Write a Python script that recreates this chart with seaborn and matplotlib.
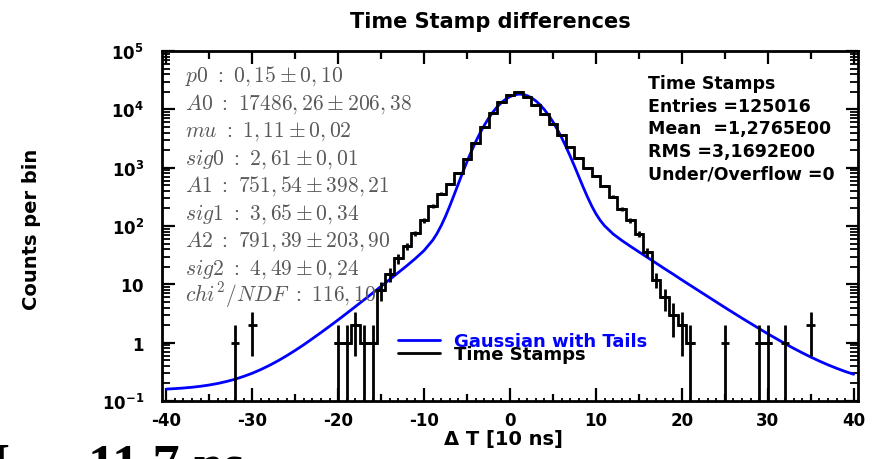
import numpy as np
import pandas as pd
import matplotlib
matplotlib.use("Agg")
import matplotlib.pyplot as plt
from matplotlib.lines import Line2D
from matplotlib.ticker import FixedLocator, LogLocator, NullFormatter
import seaborn as sns

# ---------------- data ----------------
bin_centers = [-32, -30,
               -20, -19, -18, -17, -16, -15, -14, -13, -12, -11, -10, -9, -8, -7, -6, -5, -4, -3, -2, -1,
               0, 1, 2, 3, 4, 5, 6, 7, 8, 9, 10, 11, 12, 13, 14, 15, 16, 17, 18, 19, 20, 21,
               25, 29, 30, 32, 35]
counts = [1, 2,
          1, 1, 2, 1, 1, 8, 15, 28, 45, 75, 125, 220, 360, 520, 800, 1400, 2700, 5000, 8500, 13200,
          17800, 20000, 16200, 11800, 8200, 5500, 3700, 2300, 1450, 1000, 710, 480, 320, 195, 125, 74, 36, 12, 6, 3, 2, 1,
          1, 1, 1, 1, 2]

fit_x = [-40, -39, -38, -37, -36, -35, -34, -33, -32, -31, -30, -29, -28, -27, -26, -25, -24, -23, -22, -21,
         -20, -19, -18, -17, -16, -15, -14, -13, -12, -11, -10, -9,
         -8.5, -8, -7.5, -7, -6.5, -6, -5.5, -5, -4.5, -4, -3.5, -3, -2.5, -2, -1.5, -1, -0.5, 0, 0.5, 1,
         1.5, 2, 2.5, 3, 3.5, 4, 4.5, 5, 5.5, 6, 6.5, 7, 7.5, 8, 8.5, 9, 9.5, 10, 10.5,
         11, 12, 13, 14, 15, 16, 17, 18, 19, 20, 21, 22, 23, 24, 25, 26, 27, 28, 29, 30,
         31, 32, 33, 34, 35, 36, 37, 38, 39, 40]
fit_y = [0.160, 0.163, 0.167, 0.172, 0.179, 0.188, 0.200, 0.216, 0.236, 0.264,
         0.299, 0.346, 0.408, 0.489, 0.596, 0.737, 0.922, 1.17, 1.49, 1.91,
         2.46, 3.19, 4.15, 5.41, 7.06, 9.24, 12.1, 15.9, 20.9, 27.8, 38.0, 56.9,
         74.1, 102, 147, 222, 343, 535, 831, 1270, 1897, 2760, 3887, 5300, 6998, 8920, 10974, 13030, 14940, 16530, 17651, 18200,
         18018, 17150, 15755, 13970, 11964, 9890, 7894, 6090, 4547, 3290, 2311, 1580, 1064, 707, 470, 318, 222, 162, 125,
         101, 73.0, 56.7, 45.0, 36.0, 28.9, 23.1, 18.5, 14.9, 11.9, 9.58, 7.70, 6.20, 4.99, 4.02, 3.25, 2.63, 2.14, 1.74, 1.42,
         1.17, 0.964, 0.801, 0.671, 0.567, 0.484, 0.417, 0.364, 0.321, 0.287]

x_tick_values = [-40, -30, -20, -10, 0, 10, 20, 30, 40]
x_tick_labels = ["-40", "-30", "-20", "-10", "0", "10", "20", "30", "40"]
x_mid_ticks = [-35, -25, -15, -5, 5, 15, 25, 35]
x_minor_ticks = list(range(-40, 41))
y_tick_values = [0.1, 1, 10, 100, 1000, 10000, 100000]
y_tick_labels = [r"$\mathbf{10^{-1}}$", r"$\mathbf{1}$", r"$\mathbf{10}$", r"$\mathbf{10^{2}}$",
                 r"$\mathbf{10^{3}}$", r"$\mathbf{10^{4}}$", r"$\mathbf{10^{5}}$"]

title_text = "Time Stamp differences"
x_label = "\u0394 T [10 ns]"
y_label = "Counts per bin"
legend_labels = ["Gaussian with Tails", "Time Stamps"]
fit_param_lines = [r"$p0\ :\ 0,15 \pm 0,10$",
                   r"$A0\ :\ 17486,26 \pm 206,38$",
                   r"$mu\ :\ 1,11 \pm 0,02$",
                   r"$sig0\ :\ 2,61 \pm 0,01$",
                   r"$A1\ :\ 751,54 \pm 398,21$",
                   r"$sig1\ :\ 3,65 \pm 0,34$",
                   r"$A2\ :\ 791,39 \pm 203,90$",
                   r"$sig2\ :\ 4,49 \pm 0,24$",
                   r"$chi^2/NDF\ :\ 116,10$"]
stats_lines = ["Time Stamps", "Entries =125016", "Mean  =1,2765E00", "RMS =3,1692E00", "Under/Overflow =0"]
bottom_left_text = "I"
bottom_text = "11,7 ns"

# ---------------- style ----------------
sns.set_theme(style="white")
plt.rcParams['font.family'] = ['DejaVu Sans']
plt.rcParams['mathtext.fontset'] = 'dejavusans'
plt.rcParams['axes.linewidth'] = 2.0
plt.rcParams['axes.edgecolor'] = 'black'
plt.rcParams['text.color'] = 'black'
plt.rcParams['axes.labelcolor'] = 'black'
plt.rcParams['xtick.color'] = 'black'
plt.rcParams['ytick.color'] = 'black'

W, H = 875, 460
fig = plt.figure(figsize=(W / 100, H / 100), dpi=100)
fig.patch.set_facecolor('white')
ax = fig.add_axes([162 / W, 58 / H, 696 / W, 350 / H])
ax.set_facecolor('white')
ax.set_yscale('log')

# fit curve (seaborn)
fit_df = pd.DataFrame({'x': fit_x, 'y': fit_y})
sns.lineplot(data=fit_df, x='x', y='y', ax=ax, color='#0000ff', linewidth=2.0,
             sort=False, legend=False, zorder=2)

# histogram: step outline over contiguous runs + error bars
centers = np.array(bin_centers, dtype=float)
vals = np.array(counts, dtype=float)
groups = np.split(np.arange(len(centers)), np.where(np.diff(centers) != 1)[0] + 1)
for g in groups:
    if len(g) > 1:
        edges = np.append(centers[g] - 0.5, centers[g][-1] + 0.5)
        ax.stairs(vals[g], edges, baseline=None, color='black', linewidth=2.0, zorder=3)
err = np.sqrt(vals)
low = vals - np.maximum(vals - err, 1e-3)
ax.errorbar(centers, vals, xerr=0.5, yerr=[low, err], fmt='none', ecolor='black',
            elinewidth=2.0, capsize=0, zorder=3)

ax.set_xlim(-40.5, 40.5)
ax.set_ylim(0.1, 1e5)
ax.set_xlabel("")
ax.set_ylabel("")

# x ticks
major_pos = sorted(x_tick_values + x_mid_ticks)
lab_map = dict(zip(x_tick_values, x_tick_labels))
ax.xaxis.set_major_locator(FixedLocator(major_pos))
ax.set_xticklabels([lab_map.get(p, "") for p in major_pos])
ax.xaxis.set_minor_locator(FixedLocator(x_minor_ticks))
ax.tick_params(axis='x', which='major', direction='in', length=9.5, width=1.6,
               top=True, bottom=True, labelsize=12, pad=7, colors='black')
ax.tick_params(axis='x', which='minor', direction='in', length=2.5, width=1.3,
               bottom=True, top=False)
for tk, p in zip(ax.xaxis.get_major_ticks(), major_pos):
    if p in x_mid_ticks:
        tk.tick1line.set_markersize(5)
        tk.tick2line.set_markersize(6)
for lab in ax.get_xticklabels():
    lab.set_fontweight('bold')

# y ticks
ax.yaxis.set_major_locator(FixedLocator(y_tick_values))
ax.set_yticklabels(y_tick_labels)
ax.yaxis.set_minor_locator(LogLocator(base=10, subs=[2, 3, 4, 5, 6, 7, 8, 9], numticks=20))
ax.yaxis.set_minor_formatter(NullFormatter())
ax.tick_params(axis='y', which='major', direction='in', length=9, width=1.6,
               left=True, right=True, labelsize=12, pad=13, colors='black')
ax.tick_params(axis='y', which='minor', direction='in', length=5.5, width=1.3,
               left=True, right=True)
for s in ax.spines.values():
    s.set_visible(True)
    s.set_linewidth(2.0)
    s.set_color('black')

# texts
fig.text(490 / W, 1 - 28 / H, title_text, ha='center', va='baseline',
         fontsize=15, fontweight='bold', color='black')
fig.text(503 / W, 1 - 430 / H, x_label, ha='center', va='top', fontsize=14,
         fontweight='bold', color='black')
fig.text(32 / W, 1 - 229 / H, y_label, ha='center', va='center', rotation=90,
         fontsize=14, fontweight='bold', color='black')

for i, line in enumerate(fit_param_lines):
    fig.text(185 / W, 1 - (81.7 + 27.5 * i) / H, line, ha='left', va='baseline',
             fontsize=15.5, color='#595959', math_fontfamily='cm')

for i, line in enumerate(stats_lines):
    fig.text(648 / W, 1 - (89.3 + 22.5 * i) / H, line, ha='left', va='baseline',
             fontsize=12.5, fontweight='bold', color='black')

# legend
handles = [Line2D([], [], color='#0000ff', lw=2.0), Line2D([], [], color='black', lw=2.0)]
leg = ax.legend(handles, legend_labels, loc='upper left', bbox_to_anchor=(398 / W, 1 - 333 / H),
                bbox_transform=fig.transFigure, frameon=False,
                prop={'weight': 'bold', 'size': 13}, handlelength=2.3, handletextpad=0.8,
                labelspacing=-0.28, borderpad=0, borderaxespad=0)
leg.get_texts()[0].set_color('#0000ff')
leg.get_texts()[1].set_color('black')

# cut-off text at the bottom of the image
fig.text(-12 / W, 1 - 481 / H, bottom_left_text, ha='left', va='baseline', fontsize=39,
         fontweight='bold', color='black', family=['Liberation Serif', 'DejaVu Serif'])
fig.text(88 / W, 1 - 481 / H, bottom_text, ha='left', va='baseline', fontsize=39,
         fontweight='bold', color='black', family=['Liberation Serif', 'DejaVu Serif'])

fig.savefig("out.png", dpi=100, facecolor='white')
